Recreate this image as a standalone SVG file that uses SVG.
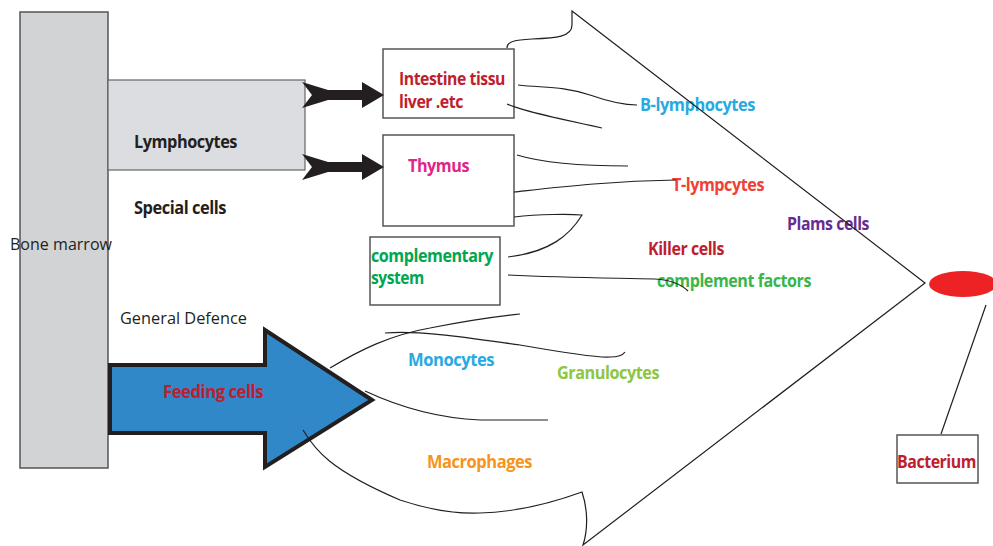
<svg xmlns="http://www.w3.org/2000/svg" width="993" height="546" viewBox="0 0 993 546">
<defs>
<style>
.t{font-family:"Open Sans","Liberation Sans",sans-serif;font-weight:700;font-size:17.5px;letter-spacing:-0.5px}
.r{font-family:"Open Sans","Liberation Sans",sans-serif;font-weight:400;font-size:16.5px;fill:#231f20}
.box{fill:#fff;stroke:#555;stroke-width:1.5}
.ln{fill:none;stroke:#231f20;stroke-width:1.2}
</style>
<polygon id="chev" points="302,82 328,90 362,90 362,82 384,95 362,108 362,100 328,100 302,108 312,95" fill="#231f20"/>
</defs>
<rect width="993" height="546" fill="#fff"/>

<g id="bone-marrow">
<rect x="20" y="12" width="88" height="456" fill="#d1d3d4" stroke="#555" stroke-width="1.5"/>
<text class="r" x="10" y="250" textLength="102" lengthAdjust="spacingAndGlyphs">Bone marrow</text>
</g>

<g id="lymphocytes">
<rect x="108" y="80" width="197" height="90" fill="#dcdde0" stroke="#666" stroke-width="1.2"/>
<text class="t" x="134" y="148" fill="#231f20" textLength="103" lengthAdjust="spacingAndGlyphs">Lymphocytes</text>
</g>

<g id="special-cells">
<text class="t" x="134" y="214" fill="#231f20" textLength="92" lengthAdjust="spacingAndGlyphs">Special cells</text>
</g>

<g id="general-defence">
<text class="r" x="120" y="324" textLength="127" lengthAdjust="spacingAndGlyphs">General Defence</text>
</g>

<g id="feeding-cells">
<path d="M110,365 L265,365 L265,330 L372,400 L265,467 L265,433 L110,433 Z" fill="#3088c8" stroke="#231f20" stroke-width="4" stroke-linejoin="miter"/>
<text class="t" x="163" y="398" fill="#be1e2d" textLength="100" lengthAdjust="spacingAndGlyphs">Feeding cells</text>
</g>

<g id="intestine">
<rect class="box" x="383" y="49" width="131" height="69"/>
<text class="t" x="399" y="85" fill="#be1e2d" textLength="106" lengthAdjust="spacingAndGlyphs">Intestine tissu</text>
<text class="t" x="399" y="108" fill="#be1e2d" textLength="64" lengthAdjust="spacingAndGlyphs">liver .etc</text>
</g>

<g id="thymus">
<rect class="box" x="383" y="135" width="131" height="91"/>
<text class="t" x="408" y="172" fill="#e0248a" textLength="61" lengthAdjust="spacingAndGlyphs">Thymus</text>
</g>

<g id="complementary-system">
<rect class="box" x="370" y="237" width="130" height="68"/>
<text class="t" x="371" y="262" fill="#00a651" textLength="122" lengthAdjust="spacingAndGlyphs">complementary</text>
<text class="t" x="371" y="284" fill="#00a651" textLength="53" lengthAdjust="spacingAndGlyphs">system</text>
</g>

<g id="labels">
<text class="t" x="640" y="111" fill="#27aae1" textLength="115" lengthAdjust="spacingAndGlyphs">B-lymphocytes</text>
<text class="t" x="672" y="191" fill="#ef4136" textLength="92" lengthAdjust="spacingAndGlyphs">T-lympcytes</text>
<text class="t" x="787" y="230" fill="#662d91" textLength="82" lengthAdjust="spacingAndGlyphs">Plams cells</text>
<text class="t" x="648" y="255" fill="#be1e2d" textLength="76" lengthAdjust="spacingAndGlyphs">Killer cells</text>
<text class="t" x="657" y="287" fill="#39b54a" textLength="154" lengthAdjust="spacingAndGlyphs">complement factors</text>
<text class="t" x="408" y="366" fill="#27aae1" textLength="86" lengthAdjust="spacingAndGlyphs">Monocytes</text>
<text class="t" x="557" y="379" fill="#8dc63f" textLength="102" lengthAdjust="spacingAndGlyphs">Granulocytes</text>
<text class="t" x="427" y="468" fill="#f7941d" textLength="105" lengthAdjust="spacingAndGlyphs">Macrophages</text>
</g>

<g id="bacterium">
<ellipse cx="963" cy="284" rx="34" ry="13" fill="#ed2224"/>
<rect class="box" x="897" y="435" width="81" height="48"/>
<text class="t" x="897" y="468" fill="#be1e2d" textLength="79" lengthAdjust="spacingAndGlyphs">Bacterium</text>
</g>

<g id="connectors">
<use href="#chev"/>
<use href="#chev" transform="translate(0,72)"/>
<path class="ln" d="M507,48 C507,41 516,40 532,39 C556,38 572,37 572,25 L572,11 L925,283 L583,545 C588,530 588,510 582,492 C560,500 520,512 480,513 C455,514 430,510 400,500 C330,470 315,450 303,430"/>
<path class="ln" d="M518,85 C545,88 562,86 590,95 C610,102 625,105 637,105"/>
<path class="ln" d="M507,104 C520,110 545,116 602,128"/>
<path class="ln" d="M517,155 C540,162 575,166 628,166"/>
<path class="ln" d="M514,192 C560,187 610,181 676,180"/>
<path class="ln" d="M514,217 C540,214 570,214 582,215 C570,235 550,252 508,257"/>
<path class="ln" d="M508,275 C570,278 620,278 655,279 C670,280 682,285 688,291"/>
<path class="ln" d="M330,368 C360,350 390,335 430,328 C470,320 500,316 520,314"/>
<path class="ln" d="M385,333 C420,330 470,338 520,345 C560,352 600,358 610,357 C618,357 623,355 625,352"/>
<path class="ln" d="M365,391 C395,405 435,418 480,420 L548,420"/>
<path class="ln" d="M986,305 L941,434"/>
</g>
</svg>
